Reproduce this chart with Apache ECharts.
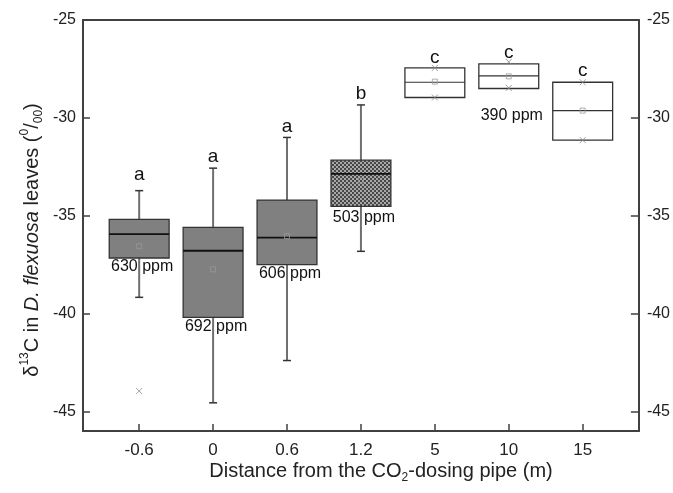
<!DOCTYPE html>
<html><head><meta charset="utf-8">
<script src="https://cdn.jsdelivr.net/npm/echarts@6/dist/echarts.min.js"></script>
<style>html,body{margin:0;padding:0;background:#fff}#c{width:673px;height:493px}</style>
</head><body><div id="c"></div>
<script>
// ---- data ----
const categories = ['-0.6', '0', '0.6', '1.2', '5', '10', '15'];
const whiskerLow  = [-39.17, -44.56, -42.40, -36.82, -28.96, -28.47, -31.14];
const q1          = [-37.16, -40.19, -37.50, -34.52, -28.96, -28.50, -31.14];
const median      = [-35.94, -36.79, -36.12, -32.86, -28.18, -27.86, -29.63];
const q3          = [-35.19, -35.60, -34.20, -32.16, -27.45, -27.24, -28.18];
const whiskerHigh = [-33.72, -32.57, -31.00, -29.34, -27.45, -27.14, -28.18];
const means       = [-36.56, -37.74, -36.04, -33.20, -28.15, -27.88, -29.63];
const outliers    = [[0, -43.96]];
const letters     = ['a', 'a', 'a', 'b', 'c', 'c', 'c'];
const ppmLabels   = ['630 ppm', '692 ppm', '606 ppm', '503 ppm', '', '390 ppm', ''];
const yTicks      = [-45, -40, -35, -30, -25];

// ---- styling (not data) ----
const boxKind   = ['grey', 'grey', 'grey', 'pattern', 'white', 'white', 'white'];
const ppmOffset = [9, 9, 9, 11, 0, 27, 0];
const letterOffset = [16, 11, 11, 11, 10, 9, 11];
const FONT = '"Liberation Sans", Arial, sans-serif';
const NARROW = '"Liberation Sans Narrow", "Arial Narrow", "Liberation Sans", sans-serif';

const pc = document.createElement('canvas');
pc.width = 4; pc.height = 4;
const g = pc.getContext('2d');
g.fillStyle = '#a8a8a8'; g.fillRect(0, 0, 4, 4);
g.fillStyle = '#474747';
g.fillRect(0, 0, 2, 2); g.fillRect(2, 2, 2, 2);
const patternFill = { image: pc, repeat: 'repeat' };

const boxData = categories.map((c, i) => [i, whiskerLow[i], q1[i], median[i], q3[i], whiskerHigh[i]]);
const meanData = means.map((m, i) => [i, m]);
const extremeData = [];
boxKind.forEach((k, i) => { if (k === 'white') { extremeData.push([i, whiskerHigh[i]]); extremeData.push([i, whiskerLow[i]]); } });
const letterData = letters.map((l, i) => ({ value: [i, whiskerHigh[i]], label: { formatter: l, offset: [0, -letterOffset[i]] } }));
const ppmData = [];
ppmLabels.forEach((p, i) => { if (p) ppmData.push({ value: [i, q1[i]], label: { formatter: p, offset: [3, ppmOffset[i]] } }); });

function renderBox(params, api) {
  const i = api.value(0);
  const xc = api.coord([i, -30])[0];
  const w = api.size([0.81, 0])[0];
  const yLo = api.coord([i, api.value(1)])[1];
  const yQ1 = api.coord([i, api.value(2)])[1];
  const yMed = api.coord([i, api.value(3)])[1];
  const yQ3 = api.coord([i, api.value(4)])[1];
  const yHi = api.coord([i, api.value(5)])[1];
  const kind = boxKind[i];
  const ch = [];
  if (kind !== 'white') {
    ch.push({ type: 'line', shape: { x1: xc, y1: yHi, x2: xc, y2: yQ3 }, style: { stroke: '#707070', lineWidth: 2 } });
    ch.push({ type: 'line', shape: { x1: xc, y1: yQ1, x2: xc, y2: yLo }, style: { stroke: '#707070', lineWidth: 2 } });
    ch.push({ type: 'line', shape: { x1: xc - 4, y1: yHi, x2: xc + 4, y2: yHi }, style: { stroke: '#333', lineWidth: 1.5 } });
    ch.push({ type: 'line', shape: { x1: xc - 4, y1: yLo, x2: xc + 4, y2: yLo }, style: { stroke: '#333', lineWidth: 1.5 } });
  }
  const fill = kind === 'grey' ? '#808080' : (kind === 'pattern' ? patternFill : '#ffffff');
  ch.push({ type: 'rect', shape: { x: xc - w / 2, y: yQ3, width: w, height: yQ1 - yQ3 },
            style: { fill: fill, stroke: '#333', lineWidth: 1.3 } });
  ch.push({ type: 'line', shape: { x1: xc - w / 2, y1: yMed, x2: xc + w / 2, y2: yMed },
            style: { stroke: kind === 'white' ? '#333' : '#111', lineWidth: kind === 'white' ? 1.2 : 1.8 } });
  return { type: 'group', children: ch };
}

const axisLine = { show: true, onZero: false, lineStyle: { color: '#404040', width: 2 } };
const xVals = categories.map((c, i) => i);
const labelBase = { show: true, position: 'inside', fontFamily: FONT, color: '#111', textBorderWidth: 0, textShadowBlur: 0 };

const chart = echarts.init(document.getElementById('c'), null, { renderer: 'canvas' });
chart.setOption({
  backgroundColor: '#ffffff',
  animation: false,
  grid: { left: 83, right: 33, top: 20, bottom: 62, containLabel: false },
  xAxis: [
    { type: 'value', min: -0.76, max: 6.76, position: 'bottom', axisLine: axisLine,
      axisTick: { show: true, inside: true, length: 7, customValues: xVals, lineStyle: { color: '#404040', width: 1.5 } },
      axisLabel: { customValues: xVals, formatter: v => categories[Math.round(v)], fontSize: 17, fontFamily: NARROW, color: '#222', margin: 11 },
      splitLine: { show: false } },
    { type: 'value', min: -0.76, max: 6.76, position: 'top', axisLine: axisLine,
      axisTick: { show: false }, axisLabel: { show: false }, splitLine: { show: false } }
  ],
  yAxis: [
    { type: 'value', min: -46, max: -25, position: 'left', axisLine: axisLine,
      axisTick: { show: true, inside: true, length: 7, customValues: yTicks, lineStyle: { color: '#404040', width: 1.5 } },
      axisLabel: { customValues: yTicks, fontSize: 16, fontFamily: FONT, color: '#222', margin: 7 },
      splitLine: { show: false } },
    { type: 'value', min: -46, max: -25, position: 'right', axisLine: axisLine,
      axisTick: { show: true, inside: true, length: 8, customValues: yTicks, lineStyle: { color: '#404040', width: 1.5 } },
      axisLabel: { customValues: yTicks, fontSize: 16, fontFamily: FONT, color: '#222', margin: 8 },
      splitLine: { show: false } }
  ],
  series: [
    { type: 'custom', renderItem: renderBox, data: boxData, encode: { x: 0, y: [1, 2, 3, 4, 5] }, z: 2 },
    { type: 'scatter', data: meanData, symbol: 'rect', symbolSize: 5, z: 5,
      itemStyle: { color: 'rgba(0,0,0,0)', borderColor: '#9a9a9a', borderWidth: 1 } },
    { type: 'scatter', data: extremeData.concat(outliers), symbol: 'path://M0,0L10,10M10,0L0,10', symbolSize: 6, z: 5,
      itemStyle: { color: 'rgba(0,0,0,0)', borderColor: '#8a8a8a', borderWidth: 1 } },
    { type: 'scatter', data: letterData, symbolSize: 0, z: 6,
      itemStyle: { color: '#111', opacity: 1 },
      label: Object.assign({}, labelBase, { fontSize: 19 }) },
    { type: 'scatter', data: ppmData, symbolSize: 0, z: 6,
      itemStyle: { color: '#111', opacity: 1 },
      label: Object.assign({}, labelBase, { fontSize: 16 }) }
  ],
  graphic: [
    { type: 'text', x: 32, y: 240, rotation: Math.PI / 2,
      style: { text: '{n|δ}{sup|13}{n|C in }{i|D. flexuosa}{n| leaves (}{sup|0}{n|/}{sub|00}{n|)}',
               align: 'center', verticalAlign: 'middle', fill: '#222',
               rich: { n: { fontSize: 20, fontFamily: FONT, lineHeight: 26, fill: '#222' },
                       i: { fontSize: 20, fontFamily: FONT, fontStyle: 'italic', lineHeight: 26, fill: '#222' },
                       sup: { fontSize: 12, fontFamily: FONT, verticalAlign: 'top', lineHeight: 16, fill: '#222' },
                       sub: { fontSize: 12, fontFamily: FONT, verticalAlign: 'bottom', lineHeight: 14, fill: '#222' } } } },
    { type: 'text', x: 381, y: 471,
      style: { text: '{n|Distance from the CO}{sub|2}{n|-dosing pipe (m)}',
               align: 'center', verticalAlign: 'middle', fill: '#222',
               rich: { n: { fontSize: 20, fontFamily: FONT, lineHeight: 26, fill: '#222' },
                       sub: { fontSize: 12, fontFamily: FONT, verticalAlign: 'bottom', lineHeight: 14, fill: '#222' } } } }
  ]
});
</script></body></html>
